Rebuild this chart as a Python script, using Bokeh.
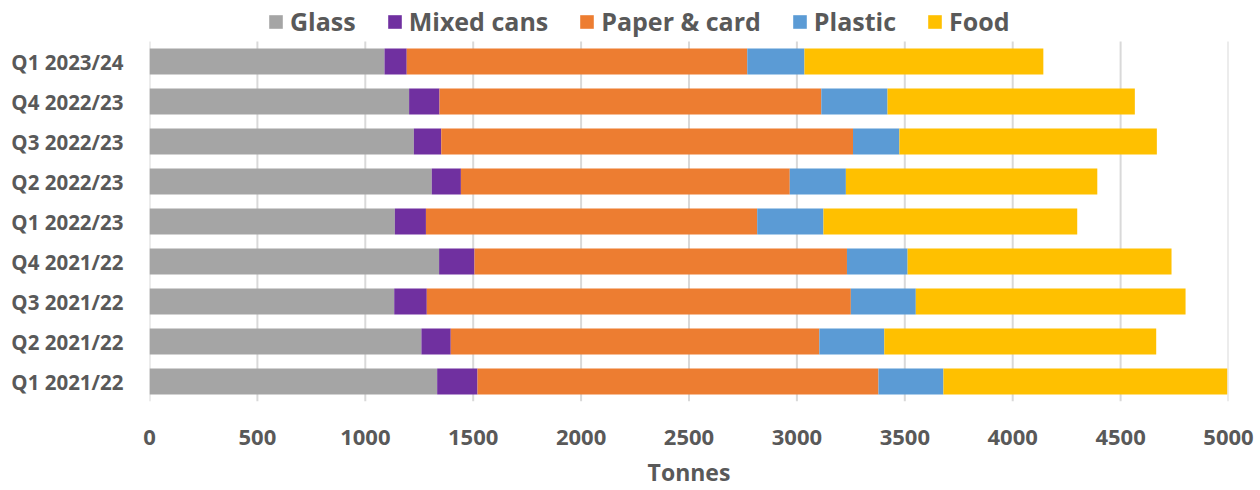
from bokeh.plotting import figure
from bokeh.models import Legend, LegendItem, FixedTicker, Range1d
from bokeh.embed import file_html
from bokeh.resources import INLINE

quarters = ["Q1 2021/22", "Q2 2021/22", "Q3 2021/22", "Q4 2021/22", "Q1 2022/23",
            "Q2 2022/23", "Q3 2022/23", "Q4 2022/23", "Q1 2023/24"]
glass = [1333, 1260, 1134, 1342, 1137, 1308, 1225, 1203, 1089]
mixed_cans = [187, 136, 151, 164, 144, 135, 127, 141, 103]
paper_card = [1858, 1708, 1965, 1726, 1535, 1524, 1908, 1769, 1578]
plastic = [301, 301, 301, 281, 307, 260, 215, 307, 265]
food = [1315, 1260, 1250, 1223, 1176, 1165, 1193, 1146, 1107]
x_ticks = [0, 500, 1000, 1500, 2000, 2500, 3000, 3500, 4000, 4500, 5000]

series = ["Glass", "Mixed cans", "Paper & card", "Plastic", "Food"]
colors = ["#A5A5A5", "#7030A0", "#ED7D31", "#5B9BD5", "#FFC000"]

pos = list(range(len(quarters)))
data = {"pos": pos, "Glass": glass, "Mixed cans": mixed_cans,
        "Paper & card": paper_card, "Plastic": plastic, "Food": food}

FONT = "Open Sans"
TXT = "#595959"

y_lo = -0.5
y_hi = len(quarters) - 0.5
p = figure(width=1260, height=490, y_range=Range1d(y_lo, y_hi + 1.025),
           x_range=Range1d(x_ticks[0], x_ticks[-1]), output_backend="svg", toolbar_location=None,
           min_border_left=149, min_border_right=32, min_border_top=0, min_border_bottom=89)

# vertical gridlines only over the category area
p.segment(x0=x_ticks, x1=x_ticks, y0=[y_lo] * len(x_ticks), y1=[y_hi] * len(x_ticks),
          line_color="#D9D9D9", line_width=2, level="underlay")

renderers = p.hbar_stack(series, y="pos", height=0.65, color=colors, source=data,
                         line_color=None)

p.outline_line_color = None
p.ygrid.grid_line_color = None
p.xgrid.grid_line_color = None
p.xaxis.ticker = FixedTicker(ticks=x_ticks)
p.xaxis.axis_line_color = None
p.xaxis.major_tick_line_color = None
p.xaxis.minor_tick_line_color = None
p.xaxis.major_label_standoff = 22
p.xaxis.major_label_text_font = FONT
p.xaxis.major_label_text_font_style = "bold"
p.xaxis.major_label_text_font_size = "22px"
p.xaxis.major_label_text_color = TXT
p.xaxis.axis_label = "Tonnes"
p.xaxis.axis_label_text_font = FONT
p.xaxis.axis_label_text_font_style = "bold"
p.xaxis.axis_label_text_font_size = "23px"
p.xaxis.axis_label_text_color = TXT
p.xaxis.axis_label_standoff = 8

p.yaxis.ticker = FixedTicker(ticks=pos)
p.yaxis.major_label_overrides = {i: q for i, q in zip(pos, quarters)}
p.yaxis.axis_line_color = None
p.yaxis.major_tick_line_color = None
p.yaxis.minor_tick_line_color = None
p.yaxis.major_label_standoff = 20
p.yaxis.major_label_text_font = FONT
p.yaxis.major_label_text_font_style = "bold"
p.yaxis.major_label_text_font_size = "20.5px"
p.yaxis.major_label_text_color = TXT

legend = Legend(items=[LegendItem(label=s, renderers=[r]) for s, r in zip(series, renderers)],
                orientation="horizontal", location=(118, 363),
                label_text_font=FONT, label_text_font_style="bold",
                label_text_font_size="25px", label_text_color=TXT,
                glyph_width=17, glyph_height=17, spacing=30, label_standoff=6,
                padding=2, margin=0, border_line_color=None, background_fill_alpha=0)
p.add_layout(legend, "center")

open("out.html", "w").write(file_html(p, INLINE))
